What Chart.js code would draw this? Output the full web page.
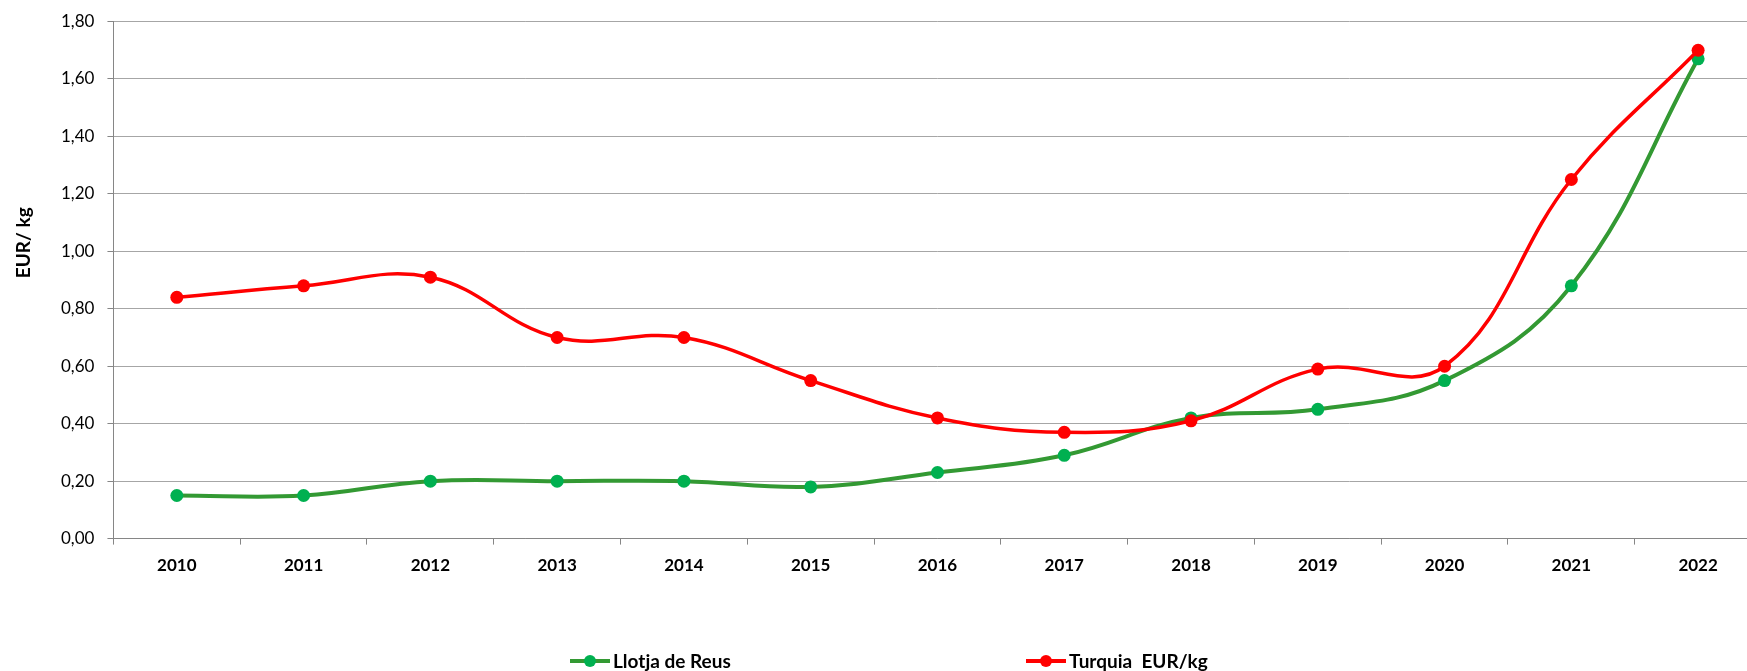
<!DOCTYPE html>
<html>
<head>
<meta charset="utf-8">
<script src="https://cdn.jsdelivr.net/npm/chart.js@4.4.1/dist/chart.umd.min.js"></script>
<style>
  html, body { margin: 0; padding: 0; background: #ffffff; overflow: hidden; width: 1747px; height: 671px; }
  #wrap { position: absolute; left: 0; top: 0; width: 1768px; height: 671px; }
  canvas { display: block; }
</style>
</head>
<body>
<div id="wrap"><canvas id="c" width="1768" height="671" style="width:1768px;height:671px"></canvas></div>
<script>
// ---- data ----
const years = ['2010','2011','2012','2013','2014','2015','2016','2017','2018','2019','2020','2021','2022'];
const llotjaReus = [0.15, 0.15, 0.20, 0.20, 0.20, 0.18, 0.23, 0.29, 0.42, 0.45, 0.55, 0.88, 1.67];
const turquia    = [0.84, 0.88, 0.91, 0.70, 0.70, 0.55, 0.42, 0.37, 0.41, 0.59, 0.60, 1.25, 1.70];
const seriesNames = ['Llotja de Reus', 'Turquia  EUR/kg'];
const yAxisTitle = 'EUR/ kg';
const yMin = 0, yMax = 1.8, yStep = 0.2;

const FONT = 'Lato, "Open Sans", "DejaVu Sans", sans-serif';

// custom legend (line + dot marker, wide spacing as in reference)
const legendPlugin = {
  id: 'refLegend',
  afterDraw(chart) {
    const ctx = chart.ctx;
    const starts = [570, 1026];
    const y = 661;
    ctx.save();
    chart.data.datasets.forEach((ds, i) => {
      const x0 = starts[i];
      ctx.strokeStyle = ds.borderColor;
      ctx.lineWidth = 4;
      ctx.beginPath();
      ctx.moveTo(x0, y);
      ctx.lineTo(x0 + 40, y);
      ctx.stroke();
      ctx.fillStyle = ds.pointBackgroundColor;
      ctx.beginPath();
      ctx.arc(x0 + 20, y, 6, 0, Math.PI * 2);
      ctx.fill();
      ctx.fillStyle = '#000';
      ctx.font = 'bold 19px ' + FONT;
      ctx.textBaseline = 'middle';
      ctx.textAlign = 'left';
      ctx.fillText(ds.label, x0 + 43, y + 1);
    });
    ctx.restore();
  }
};

// y-axis title placed as in reference (slightly above plot centre)
const yTitlePlugin = {
  id: 'yTitle',
  afterDraw(chart) {
    const ctx = chart.ctx;
    const ys = chart.scales.y;
    ctx.save();
    ctx.translate(24, ys.getPixelForValue(1.03));
    ctx.rotate(-Math.PI / 2);
    ctx.font = 'bold 19px ' + FONT;
    ctx.fillStyle = '#000';
    ctx.textAlign = 'center';
    ctx.textBaseline = 'middle';
    ctx.fillText(yAxisTitle, 0, 0);
    ctx.restore();
  }
};

new Chart(document.getElementById('c'), {
  type: 'line',
  data: {
    labels: years,
    datasets: [
      {
        label: seriesNames[0],
        data: llotjaReus,
        borderColor: '#339933',
        backgroundColor: '#00B050',
        pointBackgroundColor: '#00B050',
        pointBorderColor: '#00B050',
        pointRadius: 6.5,
        pointBorderWidth: 0,
        borderWidth: 4,
        tension: 0.4,
        fill: false,
        order: 1
      },
      {
        label: seriesNames[1],
        data: turquia,
        borderColor: '#FF0000',
        backgroundColor: '#FF0000',
        pointBackgroundColor: '#FF0000',
        pointBorderColor: '#FF0000',
        pointRadius: 6.5,
        pointBorderWidth: 0,
        borderWidth: 3.5,
        tension: 0.4,
        fill: false,
        order: 0
      }
    ]
  },
  options: {
    responsive: false,
    animation: false,
    devicePixelRatio: 1,
    layout: { padding: { left: 48, top: 12, right: 0, bottom: 84 } },
    plugins: {
      legend: { display: false },
      title: { display: false },
      tooltip: { enabled: false }
    },
    scales: {
      x: {
        type: 'category',
        offset: true,
        grid: {
          display: true,
          offset: true,
          drawOnChartArea: false,
          drawTicks: true,
          tickLength: 6,
          color: '#868686'
        },
        border: { display: true, color: '#868686', width: 1 },
        ticks: {
          font: { family: FONT, size: 17, weight: 'bold' },
          color: '#000',
          padding: 11,
          maxRotation: 0,
          autoSkip: false
        }
      },
      y: {
        min: yMin,
        max: yMax,
        grid: {
          color: '#A6A6A6',
          tickColor: '#868686',
          tickLength: 6,
          lineWidth: 1
        },
        border: { display: true, color: '#868686', width: 1 },
        ticks: {
          stepSize: yStep,
          font: { family: FONT, size: 17, lineHeight: 1 },
          color: '#000',
          padding: 13,
          callback: (v) => Number(v).toFixed(2).replace('.', ',')
        }
      }
    }
  },
  plugins: [legendPlugin, yTitlePlugin]
});
</script>
</body>
</html>
